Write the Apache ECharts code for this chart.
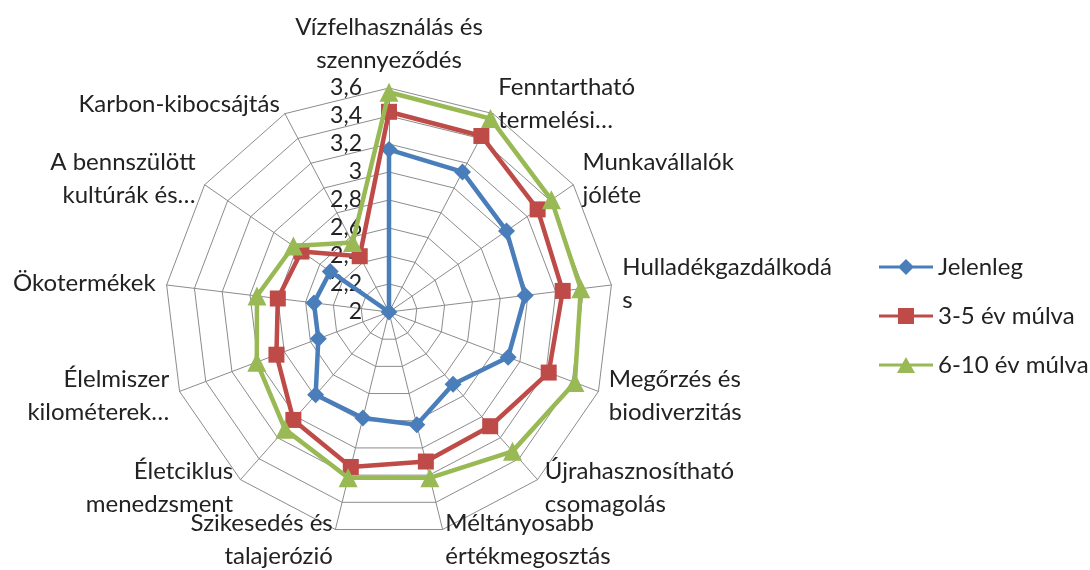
<!DOCTYPE html>
<html>
<head>
<meta charset="utf-8">
<script src="https://cdn.jsdelivr.net/npm/echarts@6/dist/echarts.min.js"></script>
<style>
  html, body { margin: 0; padding: 0; background: #fff; }
  #chart { width: 1090px; height: 570px; }
</style>
</head>
<body>
<div id="chart"></div>
<script>
// categories clockwise from the top
var categories = [
  'Vízfelhasználás és\nszennyeződés',
  'Fenntartható\ntermelési…',
  'Munkavállalók\njóléte',
  'Hulladékgazdálkodá\ns',
  'Megőrzés és\nbiodiverzitás',
  'Újrahasznosítható\ncsomagolás',
  'Méltányosabb\nértékmegosztás',
  'Szikesedés és\ntalajerózió',
  'Életciklus\nmenedzsment',
  'Élelmiszer\nkilométerek…',
  'Ökotermékek',
  'A bennszülött\nkultúrák és…',
  'Karbon-kibocsájtás'
];
var seriesNames = ['Jelenleg', '3-5 év múlva', '6-10 év múlva'];
var jelenleg = [3.16, 3.13, 3.02, 2.98, 2.91, 2.69, 2.83, 2.78, 2.79, 2.54, 2.54, 2.51, 2.0];
var harom5 = [3.43, 3.42, 3.29, 3.25, 3.22, 3.09, 3.10, 3.14, 3.03, 2.86, 2.80, 2.76, 2.45];
var hat10 = [3.57, 3.56, 3.41, 3.38, 3.42, 3.33, 3.22, 3.22, 3.12, 3.01, 2.95, 2.83, 2.56];
var axisMin = 2, axisMax = 3.6;

var colors = ['#4A7EBB', '#BE4B48', '#98B954'];
var symbols = ['diamond', 'rect', 'triangle'];
var symbolSizes = [17, 16, 19];
var font = 'Lato';

// echarts lays indicators counter-clockwise, so reorder
var order = [0];
for (var i = categories.length - 1; i > 0; i--) order.push(i);
function reorder(arr) { return order.map(function (k) { return arr[k]; }); }

var indicator = reorder(categories).map(function (name, idx) {
  var ind = { name: name, min: axisMin, max: axisMax };
  if (idx === 0) ind.axisLabel = { show: true };
  return ind;
});

var legendIcons = [
  'path://M0,6.5 H54 V9.5 H0 Z M27,0 L35,8 L27,16 L19,8 Z',
  'path://M0,6.5 H54 V9.5 H0 Z M19,0 H35 V16 H19 Z',
  'path://M0,6.5 H54 V9.5 H0 Z M27,0 L36,16 L18,16 Z'
];

var allData = [jelenleg, harom5, hat10];
var series = allData.map(function (vals, i) {
  return {
    name: seriesNames[i],
    type: 'radar',
    symbol: symbols[i],
    symbolSize: symbolSizes[i],
    z: 2 + i,
    lineStyle: { color: colors[i], width: 4.5 },
    itemStyle: { color: colors[i] },
    data: [{ name: seriesNames[i], value: reorder(vals) }]
  };
});

var myChart = echarts.init(document.getElementById('chart'));
var option = {
  backgroundColor: '#fff',
  animation: false,
  color: colors,
  legend: {
    orient: 'vertical',
    left: 874,
    top: 250,
    itemWidth: 54,
    itemHeight: 16,
    itemGap: 25,
    textStyle: { fontFamily: font, fontSize: 24, color: '#222', lineHeight: 24 },
    data: seriesNames.map(function (n, i) { return { name: n, icon: legendIcons[i] }; })
  },
  radar: {
    center: [389, 312],
    radius: 224,
    splitNumber: 8,
    nameGap: 11,
    axisName: { color: '#222', fontFamily: font, fontSize: 24, lineHeight: 33 },
    splitArea: { show: false },
    splitLine: { lineStyle: { color: '#8c8c8c', width: 1 } },
    axisLine: { lineStyle: { color: '#8c8c8c', width: 1 } },
    axisLabel: {
      show: false,
      margin: 27,
      color: '#222',
      fontFamily: font,
      fontSize: 23,
      formatter: function (v) { return String(Math.round(v * 10) / 10).replace('.', ','); }
    },
    indicator: indicator
  },
  series: series
};
myChart.setOption(option);
</script>
</body>
</html>
